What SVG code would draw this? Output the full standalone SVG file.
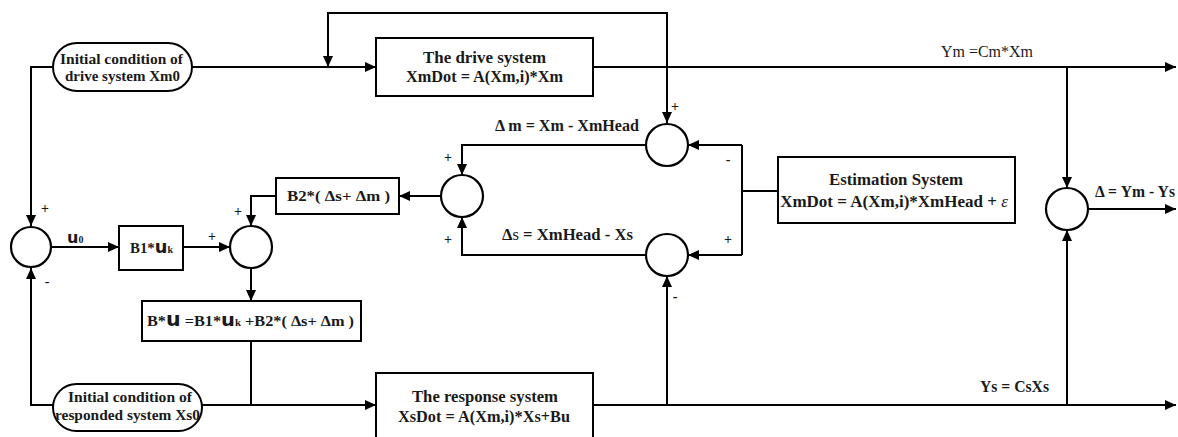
<svg xmlns="http://www.w3.org/2000/svg" width="1178" height="437" viewBox="0 0 1178 437">
<defs>
<marker id="ar" markerUnits="userSpaceOnUse" markerWidth="12" markerHeight="10" refX="11" refY="5" orient="auto-start-reverse">
<path d="M0,0 L11,5 L0,10 z" fill="#000"/>
</marker>
<style>
.box{fill:#fff;stroke:#000;stroke-width:2}
.sum{fill:#fff;stroke:#000;stroke-width:2.2}
.ln{fill:none;stroke:#000;stroke-width:2}
.ar{marker-end:url(#ar)}
text{font-family:"Liberation Serif","Times New Roman",serif;fill:#1a1a1a}
.t{font-size:17px;font-weight:bold}
.p{font-size:15px;font-weight:bold}
.s{font-size:15px;font-weight:bold}
.l{font-size:16px}
.u{font-family:"DejaVu Sans","Liberation Sans",sans-serif;font-weight:bold}
</style>
</defs>
<rect width="1178" height="437" fill="#fff"/>
<g id="connectors">
<path class="ln ar" d="M192,67 H376"/>
<path class="ln" d="M328,67 V13 H667 V123" marker-start="url(#ar)" marker-end="url(#ar)"/>
<path class="ln ar" d="M53,67 H31 V226"/>
<path class="ln ar" d="M53,405 H31 V268"/>
<path class="ln ar" d="M51,247 H119"/>
<path class="ln ar" d="M183,247 H230"/>
<path class="ln ar" d="M276,196 H251 V226"/>
<path class="ln ar" d="M251,268 V301"/>
<path class="ln" d="M251,341 V405"/>
<path class="ln ar" d="M202,405 H376"/>
<path class="ln ar" d="M593,67 H1176"/>
<path class="ln ar" d="M1067,67 V188"/>
<path class="ln ar" d="M593,405 H1176"/>
<path class="ln ar" d="M667,405 V276"/>
<path class="ln ar" d="M1067,405 V230"/>
<path class="ln ar" d="M1088,209 H1176"/>
<path class="ln" d="M778,191 H742 M742,145 V255"/>
<path class="ln ar" d="M742,145 H688"/>
<path class="ln ar" d="M742,255 H688"/>
<path class="ln ar" d="M646,145 H462 V175"/>
<path class="ln ar" d="M646,255 H462 V217"/>
<path class="ln ar" d="M441,196 H399"/>
</g>
<g id="xm0">
<rect class="box" x="53" y="43" width="139" height="48" rx="24"/>
<text class="p" x="60" y="64" textLength="123" lengthAdjust="spacingAndGlyphs">Initial condition of</text>
<text class="p" x="65" y="81" textLength="115" lengthAdjust="spacingAndGlyphs">drive system Xm0</text>
</g>
<g id="xs0">
<rect class="box" x="53" y="384" width="149" height="47" rx="23.5"/>
<text class="p" x="68" y="402" textLength="124" lengthAdjust="spacingAndGlyphs">Initial condition of</text>
<text class="p" x="55" y="420" textLength="145" lengthAdjust="spacingAndGlyphs">responded system Xs0</text>
</g>
<g id="drive">
<rect class="box" x="376" y="38" width="217" height="58"/>
<text class="t" x="423" y="63" textLength="123" lengthAdjust="spacingAndGlyphs">The drive system</text>
<text class="t" x="406" y="82" textLength="157" lengthAdjust="spacingAndGlyphs">XmDot = A(Xm,i)*Xm</text>
</g>
<g id="response">
<rect class="box" x="376" y="373" width="217" height="70"/>
<text class="t" x="412" y="402" textLength="146" lengthAdjust="spacingAndGlyphs">The response system</text>
<text class="t" x="398" y="422" textLength="172" lengthAdjust="spacingAndGlyphs">XsDot = A(Xm,i)*Xs+Bu</text>
</g>
<g id="estimation">
<rect class="box" x="778" y="157" width="237" height="66"/>
<text class="t" x="829" y="185" textLength="134" lengthAdjust="spacingAndGlyphs">Estimation System</text>
<text class="t" x="894" y="207" font-size="16.5px" text-anchor="middle">XmDot = A(Xm,i)*XmHead + <tspan font-style="italic" font-weight="normal">ε</tspan></text>
</g>
<g id="b1">
<rect class="box" x="119" y="226" width="64" height="44"/>
<text class="s" x="130" y="253" textLength="43" lengthAdjust="spacingAndGlyphs">B1*<tspan class="u" font-size="18px">u</tspan><tspan font-size="10px">k</tspan></text>
</g>
<g id="b2">
<rect class="box" x="276" y="178" width="123" height="36"/>
<text class="s" x="287" y="201" textLength="103" lengthAdjust="spacingAndGlyphs">B2*( Δs+ Δm )</text>
</g>
<g id="bu">
<rect class="box" x="142" y="301" width="219" height="40"/>
<text class="s" x="147" y="326" textLength="207" lengthAdjust="spacingAndGlyphs">B*<tspan class="u" font-size="19px">u</tspan> =B1*<tspan class="u" font-size="18px">u</tspan><tspan font-size="10px">k</tspan> +B2*( Δs+ Δm )</text>
</g>
<g id="sum0">
<circle class="sum" cx="31" cy="247" r="20"/>
</g>
<g id="sum1">
<circle class="sum" cx="251" cy="247" r="21"/>
</g>
<g id="sum2">
<circle class="sum" cx="462" cy="196" r="21"/>
</g>
<g id="sumdm">
<circle class="sum" cx="667" cy="145" r="21"/>
</g>
<g id="sumds">
<circle class="sum" cx="667" cy="255" r="21"/>
</g>
<g id="sumy">
<circle class="sum" cx="1067" cy="209" r="21"/>
</g>
<g id="labels">
<text class="s" x="67" y="243"><tspan class="u" font-size="16px">u</tspan><tspan font-size="10px">0</tspan></text>
<text class="l" x="495" y="131" font-weight="bold" textLength="144" lengthAdjust="spacingAndGlyphs">Δ m = Xm - XmHead</text>
<text class="l" x="502" y="240" font-weight="bold" textLength="131" lengthAdjust="spacingAndGlyphs">Δ<tspan font-weight="normal">s</tspan> = XmHead - Xs</text>
<text class="l" x="941" y="57" font-size="17px" textLength="92" lengthAdjust="spacingAndGlyphs">Ym =Cm*Xm</text>
<text class="l" x="980" y="392" font-weight="bold" textLength="69" lengthAdjust="spacingAndGlyphs">Ys = CsXs</text>
<text x="1095" y="197" font-size="16px" font-weight="bold" textLength="80" lengthAdjust="spacingAndGlyphs">Δ = Ym - Ys</text>
<g font-size="14px" font-weight="bold" text-anchor="middle">
<text x="45" y="213">+</text>
<text x="47" y="286">-</text>
<text x="212" y="241">+</text>
<text x="238" y="216">+</text>
<text x="448" y="162">+</text>
<text x="448" y="244">+</text>
<text x="675" y="111">+</text>
<text x="728" y="164">-</text>
<text x="728" y="244">+</text>
<text x="675" y="301">-</text>
</g>
</g>
</svg>
